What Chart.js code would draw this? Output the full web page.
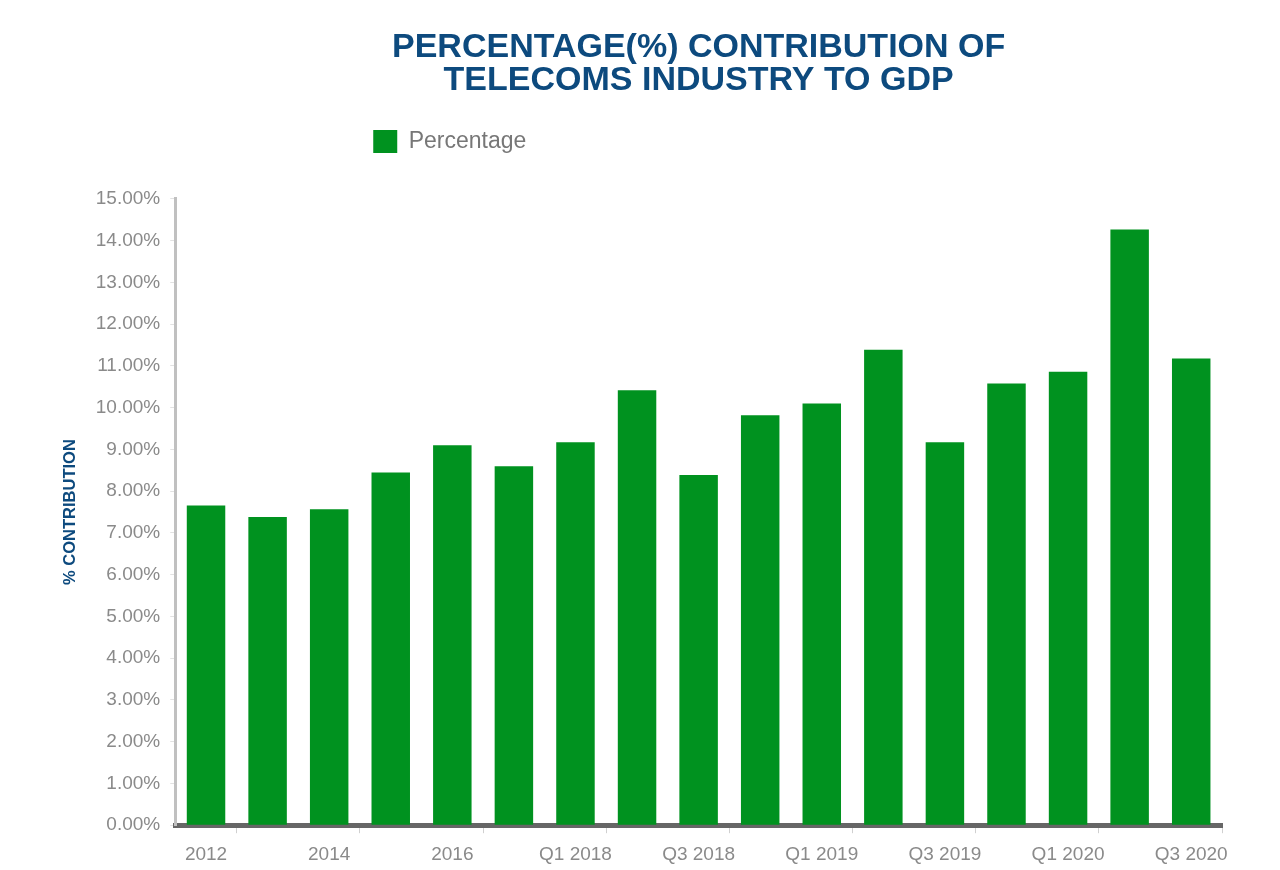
<!DOCTYPE html>
<html>
<head>
  <title>Telecoms contribution to GDP</title>
  <script src="https://cdn.jsdelivr.net/npm/chart.js"></script>
  <style>
    html, body { margin: 0; padding: 0; background: #ffffff; }
    #wrap { width: 1280px; height: 870px; }
  </style>
</head>
<body>
  <div id="wrap"><canvas id="gdpChart" width="1280" height="870"></canvas></div>

  <script>
    // data
    const categories = ["2012", "2013", "2014", "2015", "2016", "2017",
      "Q1 2018", "Q2 2018", "Q3 2018", "Q4 2018",
      "Q1 2019", "Q2 2019", "Q3 2019", "Q4 2019",
      "Q1 2020", "Q2 2020", "Q3 2020"];
    const percentage = [7.66, 7.38, 7.57, 8.45, 9.10, 8.60, 9.17, 10.42, 8.39, 9.82,
      10.10, 11.39, 9.17, 10.58, 10.86, 14.27, 11.18];
    const yTicks = [0, 1, 2, 3, 4, 5, 6, 7, 8, 9, 10, 11, 12, 13, 14, 15];

    const blue = "#0d4a7e";
    const green = "#00921f";
    const labelGrey = "#8a8a8a";
    const sans = "'Liberation Sans', Arial, Helvetica, sans-serif";

    // the legend in the picture sits left of centre and well above the plot,
    // so move it after layout
    const legendShift = {
      id: "legendShift",
      afterLayout(chart) {
        const lg = chart.legend;
        lg.left = chart.chartArea.left + 188;
        lg.top -= 36;
      }
    };

    const ctx = document.getElementById("gdpChart").getContext("2d");
    new Chart(ctx, {
      type: "bar",
      data: {
        labels: categories,
        datasets: [{
          label: "Percentage",
          data: percentage,
          backgroundColor: green,
          borderWidth: 0,
          barPercentage: 0.625,
          categoryPercentage: 1.0
        }]
      },
      options: {
        responsive: false,
        animation: false,
        layout: { padding: { left: 61, right: 58, top: 22, bottom: -6 } },
        plugins: {
          title: {
            display: true,
            fullSize: false,
            text: ["PERCENTAGE(%) CONTRIBUTION OF", "TELECOMS INDUSTRY TO GDP"],
            color: blue,
            font: { family: sans, size: 34, weight: "bold", lineHeight: 0.97 },
            padding: { top: 9.5, bottom: 58.5 }
          },
          legend: {
            display: true,
            fullSize: false,
            align: "start",
            labels: {
              color: "#777777",
              font: { family: sans, size: 23 },
              boxWidth: 24,
              boxHeight: 23,
              padding: 10
            }
          },
          tooltip: { enabled: false }
        },
        scales: {
          x: {
            grid: {
              offset: true,
              drawOnChartArea: false,
              tickLength: 8,
              tickWidth: 1,
              tickColor: (c) => (c.type !== "tick" || c.index % 2 === 1) ? "#d0d0d0" : "rgba(0,0,0,0)"
            },
            border: { color: "#666666", width: 5 },
            ticks: {
              autoSkip: false,
              maxRotation: 0,
              color: labelGrey,
              font: { family: sans, size: 19 },
              padding: 10,
              callback: function (value, index) {
                return index % 2 === 0 ? categories[index] : "";
              }
            }
          },
          y: {
            min: yTicks[0],
            max: yTicks[yTicks.length - 1],
            afterBuildTicks: (axis) => { axis.ticks = yTicks.map(v => ({ value: v })); },
            grid: {
              drawOnChartArea: false,
              tickLength: 5,
              tickColor: "#e2e2e2"
            },
            border: { color: "#c0c0c0", width: 3 },
            ticks: {
              color: labelGrey,
              font: { family: sans, size: 19 },
              padding: 10,
              callback: (value) => value.toFixed(2) + "%"
            },
            title: {
              display: true,
              text: "% CONTRIBUTION",
              color: blue,
              font: { family: sans, size: 16.5, weight: "bold" },
              padding: { top: 0, bottom: 5 }
            }
          }
        }
      },
      plugins: [legendShift]
    });
  </script>
</body>
</html>
